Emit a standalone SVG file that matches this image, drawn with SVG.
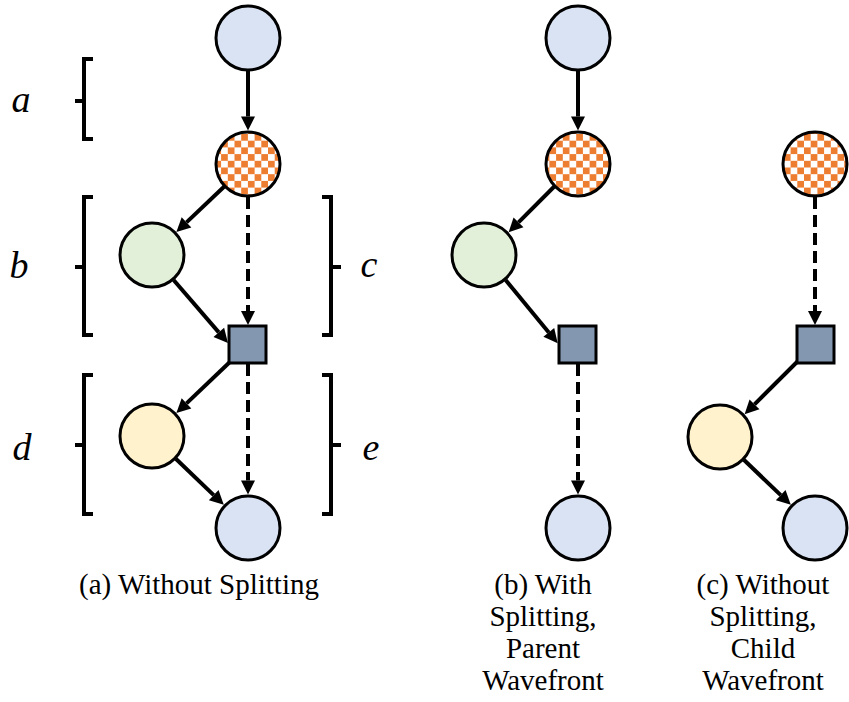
<svg xmlns="http://www.w3.org/2000/svg" width="849" height="702" viewBox="0 0 849 702">
  <defs>
    <pattern id="checker" patternUnits="userSpaceOnUse" width="13.4" height="13.4">
      <rect width="13.4" height="13.4" fill="#ffffff"/>
      <rect x="0" y="0" width="6.7" height="6.7" fill="#ED7D31"/>
      <rect x="6.7" y="6.7" width="6.7" height="6.7" fill="#ED7D31"/>
    </pattern>
    <marker id="head" markerUnits="userSpaceOnUse" markerWidth="16" markerHeight="16" refX="0" refY="7" orient="auto" overflow="visible">
      <path d="M0,0 L14,7 L0,14 z" fill="#000"/>
    </marker>
    <style>
      .node { stroke: #000; stroke-width: 3; }
      .blue { fill: #DAE3F3; }
      .green { fill: #E2F0D9; }
      .yellow { fill: #FFF2CC; }
      .check { fill: url(#checker); }
      .sq { fill: #8497B0; }
      .edge { stroke: #000; stroke-width: 4; fill: none; marker-end: url(#head); }
      .dash { stroke-dasharray: 12 6; }
      .brk { stroke: #000; stroke-width: 4; fill: none; }
    </style>
  </defs>

  <!-- connectors (drawn first so nodes sit on top) -->
  <g id="connectors">
    <!-- (a) -->
    <line class="edge" x1="248" y1="70" x2="248" y2="116.5"/>
    <line class="edge" x1="224.8" y1="186" x2="186.5" y2="222.4"/>
    <line class="edge" x1="173.6" y1="280" x2="218.8" y2="332.4"/>
    <line class="edge dash" x1="248" y1="197" x2="248" y2="311"/>
    <line class="edge" x1="232" y1="360" x2="186.5" y2="403.4"/>
    <line class="edge dash" x1="248" y1="364" x2="248" y2="480.5"/>
    <line class="edge" x1="175.8" y1="458.8" x2="213.7" y2="495.1"/>
    <!-- (b) -->
    <line class="edge" x1="578" y1="70" x2="578" y2="116.5"/>
    <line class="edge" x1="554.8" y1="186" x2="518.5" y2="222.4"/>
    <line class="edge" x1="505.6" y1="280" x2="548.8" y2="332.4"/>
    <line class="edge dash" x1="578" y1="364" x2="578" y2="480.5"/>
    <!-- (c) -->
    <line class="edge dash" x1="815" y1="197" x2="815" y2="311"/>
    <line class="edge" x1="799" y1="360" x2="754.5" y2="404.4"/>
    <line class="edge" x1="743.8" y1="459.8" x2="780.7" y2="495.1"/>
  </g>

  <!-- column (a) -->
  <g id="a-top"><circle class="node blue" cx="248" cy="38" r="32"/></g>
  <g id="a-split"><circle class="node check" cx="248" cy="164" r="32"/></g>
  <g id="a-green"><circle class="node green" cx="152" cy="255" r="32"/></g>
  <g id="a-join"><rect class="node sq" x="229" y="326" width="37" height="37"/></g>
  <g id="a-yellow"><circle class="node yellow" cx="152" cy="436" r="32"/></g>
  <g id="a-bottom"><circle class="node blue" cx="248" cy="528" r="32"/></g>

  <!-- column (b) -->
  <g id="b-top"><circle class="node blue" cx="578" cy="38" r="32"/></g>
  <g id="b-split"><circle class="node check" cx="578" cy="164" r="32"/></g>
  <g id="b-green"><circle class="node green" cx="484" cy="255" r="32"/></g>
  <g id="b-join"><rect class="node sq" x="559" y="326" width="37" height="37"/></g>
  <g id="b-bottom"><circle class="node blue" cx="578" cy="528" r="32"/></g>

  <!-- column (c) -->
  <g id="c-split"><circle class="node check" cx="815" cy="164" r="32"/></g>
  <g id="c-join"><rect class="node sq" x="797" y="326" width="37" height="37"/></g>
  <g id="c-yellow"><circle class="node yellow" cx="720" cy="437" r="32"/></g>
  <g id="c-bottom"><circle class="node blue" cx="815" cy="528" r="32"/></g>

  <!-- brackets -->
  <g id="brackets">
    <path class="brk" d="M93,59 H84 V139 H93 M84,101 H75"/>
    <path class="brk" d="M93,197 H84 V335 H93 M84,267 H75"/>
    <path class="brk" d="M322,197 H331 V335 H322 M331,267 H341"/>
    <path class="brk" d="M93,375 H84 V514 H93 M84,445 H75"/>
    <path class="brk" d="M322,375 H331 V514 H322 M331,445 H341"/>
  </g>

  <!-- bracket labels -->
  <g id="labels" font-family="'Liberation Serif', 'DejaVu Serif', serif" font-style="italic" font-size="38" text-anchor="middle">
    <text x="21" y="112">a</text>
    <text x="19" y="278">b</text>
    <text x="369" y="277">c</text>
    <text x="22" y="460">d</text>
    <text x="371" y="460">e</text>
  </g>

  <!-- captions -->
  <g id="captions" font-family="'Liberation Serif', 'DejaVu Serif', serif" font-size="29" text-anchor="middle">
    <text x="199" y="594">(a) Without Splitting</text>
    <text x="543" y="594">(b) With</text>
    <text x="543" y="626">Splitting,</text>
    <text x="543" y="658">Parent</text>
    <text x="543" y="690">Wavefront</text>
    <text x="763" y="594">(c) Without</text>
    <text x="763" y="626">Splitting,</text>
    <text x="763" y="658">Child</text>
    <text x="763" y="690">Wavefront</text>
  </g>
</svg>
